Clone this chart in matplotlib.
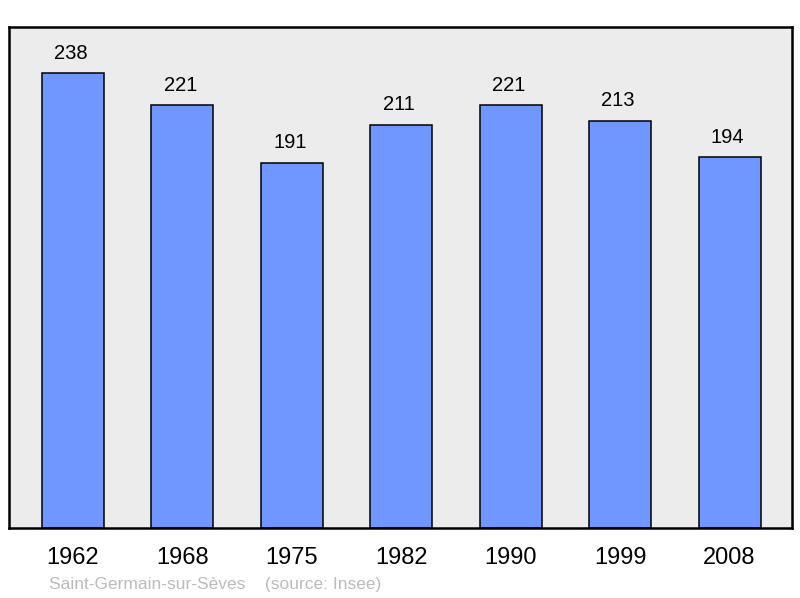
import matplotlib
matplotlib.use("Agg")
import matplotlib.pyplot as plt

years = ["1962", "1968", "1975", "1982", "1990", "1999", "2008"]
population = [238, 221, 191, 211, 221, 213, 194]

plt.rcParams["font.family"] = ["Liberation Sans", "DejaVu Sans"]

fig = plt.figure(figsize=(8, 5.98), dpi=100)
ax = fig.add_axes([9 / 800, 70 / 598, 783 / 800, 501 / 598])
ax.set_facecolor("#ececec")

pos = list(range(len(years)))
ax.bar(pos, population, width=0.567, color="#7097ff", edgecolor="black", linewidth=1.1, zorder=2)

for x, v in zip(pos, population):
    ax.annotate(str(v), (x, v), xytext=(-1.5, 14.3), textcoords="offset points",
                ha="center", va="center", fontsize=14.5)

ax.set_xlim(-0.585, 6.57)
ax.set_ylim(0, 262)
ax.set_yticks([])
ax.set_xticks(pos)
ax.set_xticklabels(years, fontsize=17)
ax.tick_params(axis="x", length=0, pad=13.5)
for s in ax.spines.values():
    s.set_linewidth(1.8)

fig.text(49 / 800, 1 - 585 / 598, "Saint-Germain-sur-Sèves    (source: Insee)",
         color="#bbbbbb", fontsize=12.5, va="center", ha="left")

fig.savefig("out.png", dpi=100)
